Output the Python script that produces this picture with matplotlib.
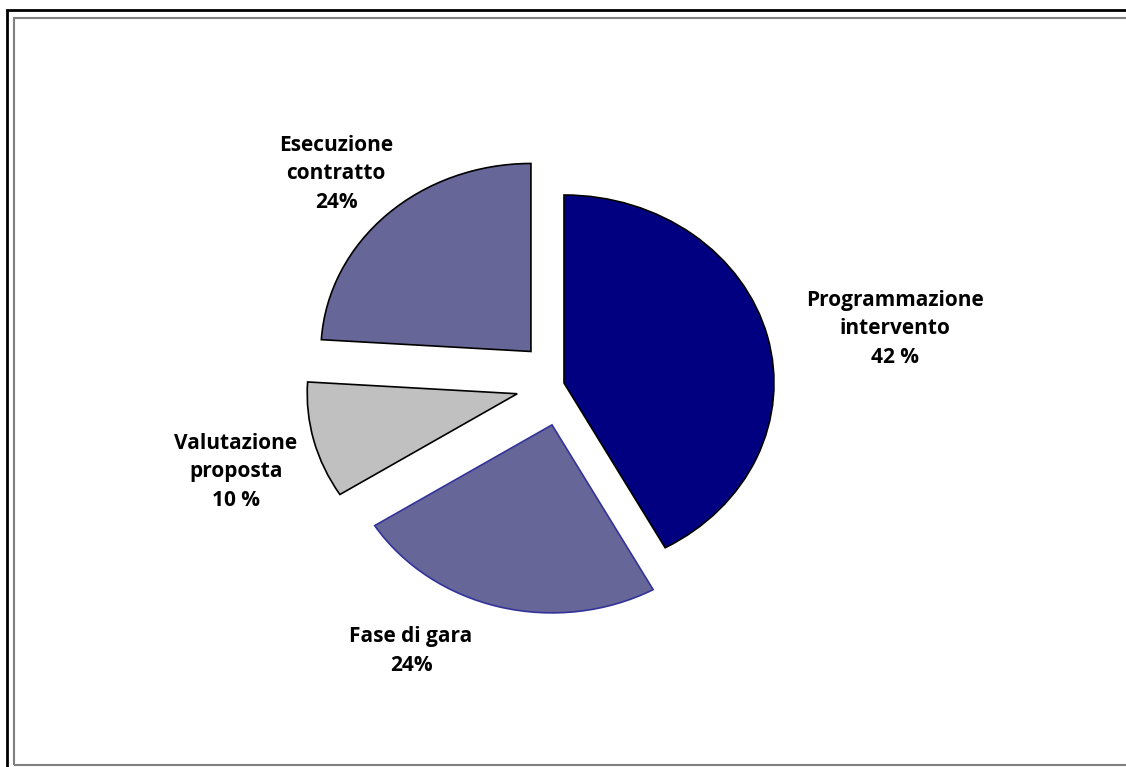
import matplotlib
matplotlib.use("Agg")
import matplotlib.pyplot as plt
from matplotlib.patches import Rectangle

# data (clockwise from 12 o'clock)
categories = ["Programmazione intervento", "Fase di gara", "Valutazione proposta", "Esecuzione contratto"]
values = [42, 24, 10, 24]
labels = ["Programmazione\nintervento\n42 %", "Fase di gara\n24%", "Valutazione\nproposta\n10 %", "Esecuzione\ncontratto\n24%"]
explode = [0, 0.23, 0.23, 0.23]
colors = ["#000080", "#666699", "#C0C0C0", "#666699"]
edges = ["black", "#333399", "black", "black"]

W, H = 1126, 767
fig = plt.figure(figsize=(W / 100, H / 100), dpi=100)
ax = fig.add_axes([0, 0, 1, 1])

wedges, _ = ax.pie(values, explode=explode, colors=colors, startangle=90,
                   counterclock=False, wedgeprops=dict(linewidth=1.2))
for w, ec in zip(wedges, edges):
    w.set_edgecolor(ec)

# pie centre / radii in pixels (the original is stretched horizontally)
cx, cy, rx, ry = 564, 383, 210, 188
ax.set_aspect("auto")
ax.set_xlim(-cx / rx, (W - cx) / rx)
ax.set_ylim(-(H - cy) / ry, cy / ry)
ax.axis("off")

# label centres in pixels
label_pos = [(895, 329), (411, 651), (236, 472), (336, 174)]
for txt, (px, py) in zip(labels, label_pos):
    ax.text((px - cx) / rx, (cy - py) / ry, txt, ha="center", va="center",
            fontsize=15, fontweight="bold", family="Open Sans",
            linespacing=1.45, color="black")

# chart frame
fig.add_artist(Rectangle((7 / W, -0.01), 1.1, (H - 10) / H + 0.01, transform=fig.transFigure,
                         fill=False, edgecolor="black", linewidth=2))
fig.add_artist(Rectangle((14 / W, (H - 765) / H), 1.1, (765 - 18) / H, transform=fig.transFigure,
                         fill=False, edgecolor="#808080", linewidth=1.5))

fig.savefig("out.png", dpi=100, facecolor="white")
